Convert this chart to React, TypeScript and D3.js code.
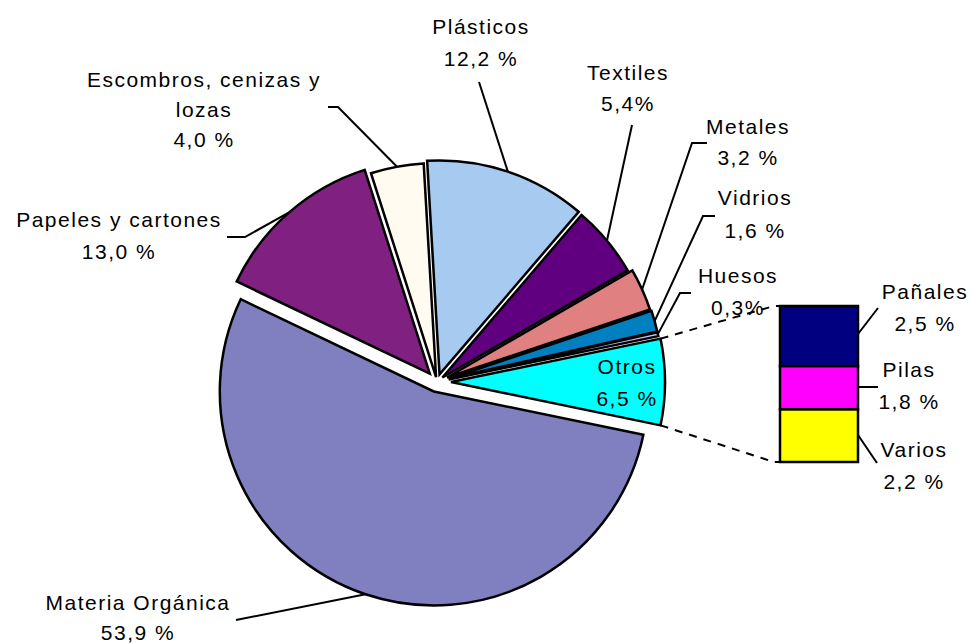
import React from "react";
import * as d3 from "d3";

// ---- Data ----
const categories = [
  "Materia Orgánica",
  "Papeles y cartones",
  "Escombros, cenizas y lozas",
  "Plásticos",
  "Textiles",
  "Metales",
  "Vidrios",
  "Huesos",
  "Otros",
];
const values = [53.9, 13.0, 4.0, 12.2, 5.4, 3.2, 1.6, 0.3, 6.5];
const percentLabels = ["53,9 %", "13,0 %", "4,0 %", "12,2 %", "5,4%", "3,2 %", "1,6 %", "0,3%", "6,5 %"];
const otherCategories = ["Pañales", "Pilas", "Varios"];
const otherValues = [2.5, 1.8, 2.2];
const otherPercentLabels = ["2,5 %", "1,8 %", "2,2 %"];

// ---- Styles ----
const sliceColors = ["#8080C0", "#802080", "#FFFBF0", "#A6CAF0", "#600080", "#E08080", "#0080C0", "#C0C0FF", "#00FFFF"];
const otherColors = ["#000080", "#FF00FF", "#FFFF00"];
const explode = [10, 11, 5, 8, 7, 11, 12, 12, 14];

// label layout
const labelLines = [
  ["Materia Orgánica"],
  ["Papeles y cartones"],
  ["Escombros, cenizas y", "lozas"],
  ["Plásticos"],
  ["Textiles"],
  ["Metales"],
  ["Vidrios"],
  ["Huesos"],
  ["Otros"],
];
const labelX = [138, 119, 204, 481, 628, 748, 755, 738, 627];
const labelY = [602, 219, 79, 26, 72, 126, 197, 275, 366];
const labelLineGap = [30, 32, 30, 32, 31, 31, 33, 32, 32];
const leaderStarts: number[][][] = [
  [[236, 620]],
  [[227, 237], [245, 237]],
  [[328, 107], [338, 107]],
  [[479, 82]],
  [[632, 125]],
  [[707, 143], [692, 143]],
  [[715, 216], [703, 216]],
  [[691, 293], [680, 293]],
  [],
];
const otherLabelX = [925, 909, 914];
const otherLabelY = [291, 369, 449];
const otherLeader = [
  [[858, 334], [878, 308]],
  [[858, 387], [878, 387]],
  [[858, 435], [877, 463]],
];

export default function App() {
  const W = 973, H = 644;
  const cx = 437, cy = 382, R = 214;
  const total = d3.sum(values);
  const otrosHalf = (values[values.length - 1] / total) * Math.PI;
  const a0 = Math.PI / 2 + otrosHalf;
  const pie = d3.pie<number>().sort(null).value((d) => d).startAngle(a0).endAngle(a0 + 2 * Math.PI);
  const arcs = pie(values);
  const arcGen = d3.arc<d3.PieArcDatum<number>>().innerRadius(0).outerRadius(R);

  const pt = (a: number, r: number) => [Math.sin(a) * r, -Math.cos(a) * r];

  const apexes = arcs.map((a, i) => {
    const mid = (a.startAngle + a.endAngle) / 2;
    const [dx, dy] = pt(mid, explode[i]);
    return [cx + dx, cy + dy];
  });

  const otros = arcs[arcs.length - 1];
  const oA = apexes[apexes.length - 1];
  const oTop = [oA[0] + pt(otros.startAngle, R)[0], oA[1] + pt(otros.startAngle, R)[1]];
  const oBot = [oA[0] + pt(otros.endAngle, R)[0], oA[1] + pt(otros.endAngle, R)[1]];

  // bar
  const barX = 780, barW = 78;
  const yScale = d3.scaleLinear().domain([0, d3.sum(otherValues)]).range([462, 306]);
  const segs: { y0: number; y1: number; i: number }[] = [];
  let acc = 0;
  for (let i = otherValues.length - 1; i >= 0; i--) {
    segs.push({ y0: yScale(acc), y1: yScale(acc + otherValues[i]), i });
    acc += otherValues[i];
  }
  const barTop = yScale(acc), barBot = yScale(0);

  const line = d3.line();
  const font = { fontFamily: "'Liberation Sans', Arial, sans-serif", fontSize: 21, letterSpacing: 1.5 };

  return (
    <svg width={W} height={H} style={{ position: "absolute", left: 0, top: 0, background: "#fff" }}>
      <rect width={W} height={H} fill="#fff" />
      {/* series lines */}
      <path d={line([[oTop[0], oTop[1]], [barX - 6, barTop], [barX, barTop]] as [number, number][]) || ""} fill="none" stroke="#000" strokeWidth={2} strokeDasharray="8,7" />
      <path d={line([[oBot[0], oBot[1]], [barX - 6, barBot], [barX, barBot]] as [number, number][]) || ""} fill="none" stroke="#000" strokeWidth={2} strokeDasharray="8,7" />
      {/* slices */}
      {arcs.map((a, i) => (
        <path key={i} d={arcGen(a) || ""} transform={`translate(${apexes[i][0]},${apexes[i][1]})`} fill={sliceColors[i]} stroke="#000" strokeWidth={2.5} strokeLinejoin="miter" />
      ))}
      {/* leader lines */}
      {arcs.map((a, i) => {
        if (!leaderStarts[i].length) return null;
        const mid = (a.startAngle + a.endAngle) / 2;
        const e = pt(mid, R);
        const end: [number, number] = [apexes[i][0] + e[0], apexes[i][1] + e[1]];
        const pts = [...leaderStarts[i].map((p) => [p[0], p[1]] as [number, number]), end];
        return <path key={"l" + i} d={line(pts) || ""} fill="none" stroke="#000" strokeWidth={2} />;
      })}
      {/* labels */}
      {categories.map((c, i) => {
        const lines = [...labelLines[i], percentLabels[i]];
        return (
          <text key={"t" + i} {...font} textAnchor="middle" fill="#000">
            {lines.map((ln, j) => (
              <tspan key={j} x={labelX[i]} y={labelY[i] + j * labelLineGap[i]} dominantBaseline="central">{ln}</tspan>
            ))}
          </text>
        );
      })}
      {/* bar */}
      {segs.map((s) => (
        <rect key={"b" + s.i} x={barX} y={s.y1} width={barW} height={s.y0 - s.y1} fill={otherColors[s.i]} stroke="#000" strokeWidth={2.5} />
      ))}
      {otherCategories.map((c, i) => (
        <g key={"o" + i}>
          <path d={line(otherLeader[i] as [number, number][]) || ""} fill="none" stroke="#000" strokeWidth={2} />
          <text {...font} textAnchor="middle" fill="#000">
            <tspan x={otherLabelX[i]} y={otherLabelY[i]} dominantBaseline="central">{c}</tspan>
            <tspan x={otherLabelX[i]} y={otherLabelY[i] + 32} dominantBaseline="central">{otherPercentLabels[i]}</tspan>
          </text>
        </g>
      ))}
    </svg>
  );
}
